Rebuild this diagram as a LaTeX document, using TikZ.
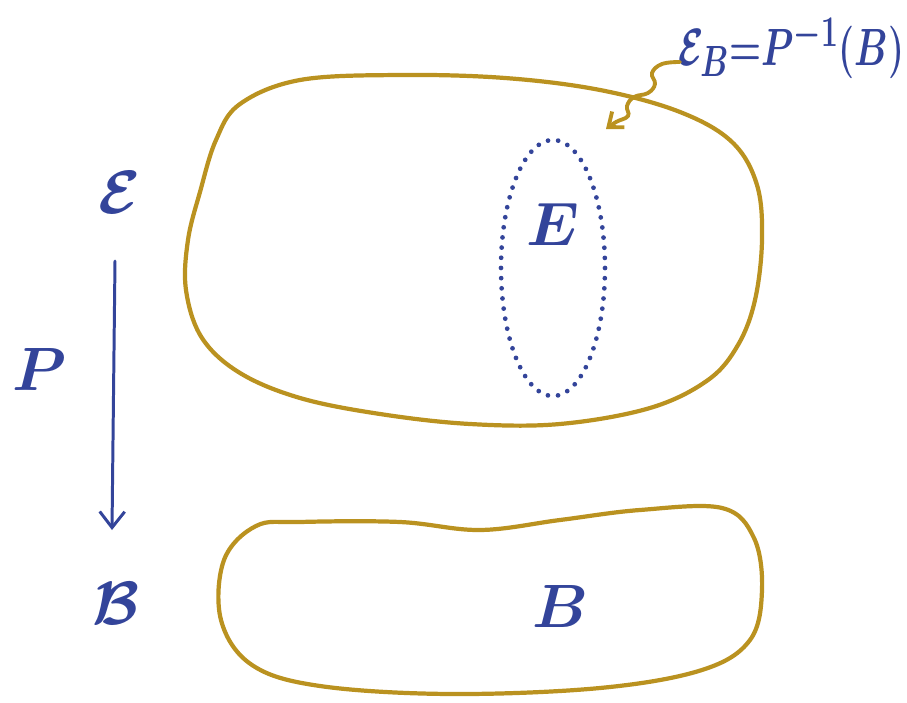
\documentclass[tikz,border=0pt]{standalone}
\usepackage{amsmath}
\usepackage{graphicx}
\usepackage{xcolor}
\usetikzlibrary{arrows.meta,calc,positioning}
\definecolor{ink}{HTML}{33449A}
\definecolor{gold}{HTML}{BA9220}
\newcommand{\hw}[2][1.4]{\scalebox{#1}{\Huge\boldmath #2}}
\tikzset{blob/.style={draw=gold, line width=2.4pt, line join=round}, pmaparrow/.style={-{Straight Barb[length=3.2mm,width=5mm]}, line width=1.7pt, color=ink, line cap=round}, hand/.style={text=ink}, fibdots/.style={draw=ink, line width=2.7pt, line cap=round, dash pattern=on 0pt off 5.8pt}}

\begin{document}
\begin{tikzpicture}[x=0.02cm,y=-0.02cm]
\useasboundingbox (0,0) rectangle (907,703);
% total space and base
\draw[blob] plot[smooth cycle, tension=0.6] coordinates {(300,80) (400,75) (505,78) (600,90) (680,112) (732,142) (757,185) (762,240) (755,300) (738,345) (708,380) (650,408) (560,424) (470,424) (380,414) (300,398) (240,373) (202,338) (186,290) (188,240) (200,192) (216,140) (240,104)};
\draw[blob] plot[smooth cycle, tension=0.6] coordinates {(300,522) (400,522) (480,530) (560,520) (640,510) (722,508) (754,538) (762,590) (750,640) (702,670) (600,688) (450,694) (320,686) (252,665) (221,620) (224,560) (256,526)};
% fibre over B
\draw[fibdots] (553,268) ellipse [x radius=52, y radius=128];
\node[hand] (fib) at (553,225) {\hw{$E$}};
\node[hand] (pt) at (560,607) {\hw{$B$}};
% left column
\node[hand] (etot) at (120,193) {\hw{$\mathcal{E}$}};
\node[hand] (base) at (116,604) {\hw{$\mathcal{B}$}};
\node[hand] (pmap) at (40,370) {\hw{$P$}};
\draw[pmaparrow] (etot) ++(-5,68) coordinate (pa) -- ($(base)+(-4,-74)$) coordinate (pb);
% label with squiggle
\node[hand, anchor=east, inner sep=0pt] (lab) at (905,48) {\scalebox{0.84}[1.2]{\Huge\boldmath$\mathcal{E}_B{=}P^{-1}(B)$}};
\coordinate (tip) at (606,129);
\draw[gold, line width=2.2pt, line cap=round, -{Straight Barb[length=2.5mm,width=4mm]}] plot[smooth, tension=0.7] coordinates {(680,62) (662,64) (652,73) (655,84) (648,93) (634,97) (627,106) (628,116) (616,122) (tip)};
\end{tikzpicture}
\end{document}
